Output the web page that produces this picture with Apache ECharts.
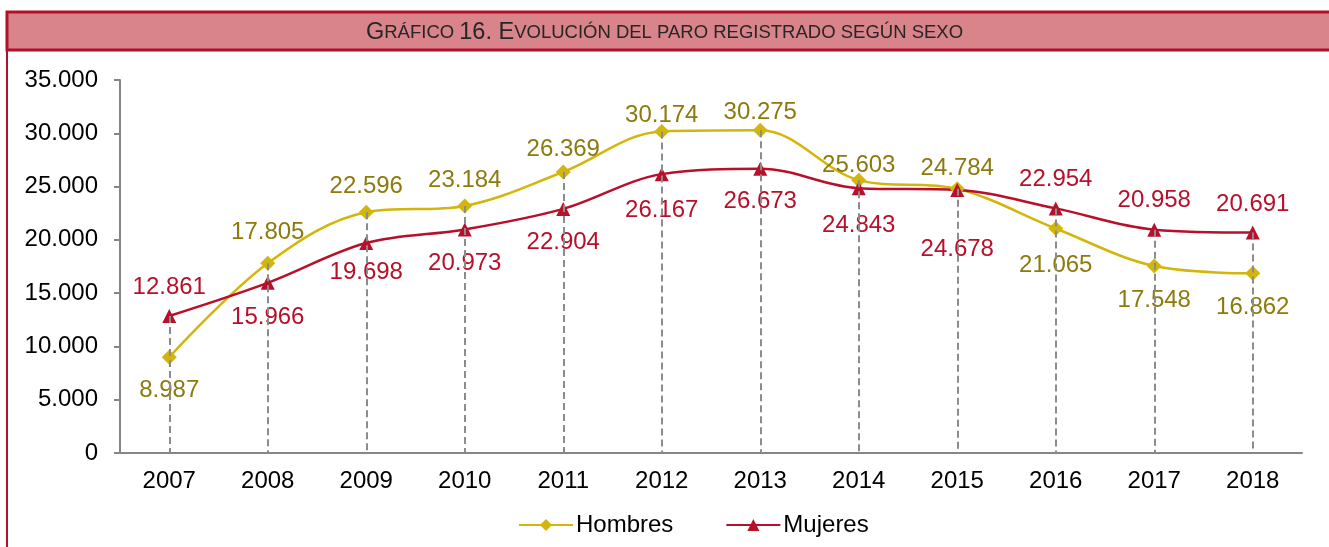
<!DOCTYPE html>
<html>
<head>
<meta charset="utf-8">
<script src="https://cdn.jsdelivr.net/npm/echarts@6/dist/echarts.min.js"></script>
<style>
  html, body { margin: 0; padding: 0; background: #fff; }
  #mybox { width: 1329px; height: 547px; }
</style>
</head>
<body>
<div id="mybox"></div>
<script>
// datos
var years = ['2007','2008','2009','2010','2011','2012','2013','2014','2015','2016','2017','2018'];
var hombres = [8987, 17805, 22596, 23184, 26369, 30174, 30275, 25603, 24784, 21065, 17548, 16862];
var mujeres = [12861, 15966, 19698, 20973, 22904, 26167, 26673, 24843, 24678, 22954, 20958, 20691];

// colocacion de las etiquetas (arriba / abajo y separacion en px)
var posHombres = ['bottom','top','top','top','top','top','top','top','top','bottom','bottom','bottom'];
var posMujeres = ['top','bottom','bottom','bottom','bottom','bottom','bottom','bottom','bottom','top','top','top'];
var gapHombres = [14, 11, 6, 6, 3, -3, -2, -5, 1, 17, 15, 15];
var gapMujeres = [10, 16, 10, 15, 14, 17, 14, 18, 40, 10, 10, 9];

var mycharts = echarts.init(document.getElementById('mybox'));

function fmt(v) {
    return String(v).replace(/\B(?=(\d{3})+(?!\d))/g, '.');
}

function puntos(arr, pos, gap) {
    return arr.map(function (v, i) {
        var dy = pos[i] === 'top' ? -gap[i] : gap[i];
        return { value: v, label: { position: pos[i], distance: 0, offset: [0, dy] } };
    });
}

// lineas verticales discontinuas hasta el eje
var drop = years.map(function (y, i) {
    return [{ coord: [i, Math.max(hombres[i], mujeres[i])] }, { coord: [i, 0] }];
});

var font = 'Liberation Sans, Arial, sans-serif';

var optionObj = {
    animation: false,
    textStyle: { fontFamily: font },
    graphic: [
        {
            type: 'rect',
            shape: { x: 7, y: 12, width: 1330, height: 38 },
            style: { fill: '#d9838a', stroke: '#b0102a', lineWidth: 3 },
            z: 0
        },
        {
            type: 'line',
            shape: { x1: 7, y1: 12, x2: 7, y2: 547 },
            style: { stroke: '#b0102a', lineWidth: 2 }
        },
        {
            type: 'text',
            left: 'center',
            top: 21,
            style: {
                text: '{b|G}{s|RÁFICO }{b|16. E}{s|VOLUCIÓN DEL PARO REGISTRADO SEGÚN SEXO}',
                rich: {
                    b: { fontSize: 23.5, fill: '#262626', fontFamily: font },
                    s: { fontSize: 18.5, fill: '#262626', fontFamily: font }
                }
            },
            z: 10
        }
    ],
    grid: { left: 120, right: 27, top: 80, bottom: 94 },
    legend: {
        bottom: 5,
        left: 513,
        itemWidth: 54,
        itemHeight: 15,
        itemGap: 52,
        textStyle: { fontSize: 24, color: '#000', fontFamily: font, padding: [0, 0, 0, -2] },
        data: ['Hombres', 'Mujeres']
    },
    xAxis: {
        type: 'category',
        data: years,
        boundaryGap: true,
        axisLine: { lineStyle: { color: '#868686', width: 2 } },
        axisTick: { show: false },
        axisLabel: { fontSize: 24, color: '#000', margin: 16 }
    },
    yAxis: {
        type: 'value',
        min: 0,
        max: 35000,
        interval: 5000,
        splitLine: { show: false },
        axisLine: { show: true, lineStyle: { color: '#868686', width: 2 } },
        axisTick: { show: true, length: 6, lineStyle: { color: '#868686', width: 2 } },
        axisLabel: { fontSize: 24, color: '#000', margin: 22, formatter: fmt }
    },
    series: [
        {
            name: 'guias',
            type: 'line',
            data: [],
            z: 1,
            markLine: {
                silent: true,
                symbol: 'none',
                label: { show: false },
                lineStyle: { type: [7, 4], color: '#8c8c8c', width: 2 },
                data: drop
            }
        },
        {
            name: 'Hombres',
            type: 'line',
            smooth: 0.35,
            data: puntos(hombres, posHombres, gapHombres),
            symbol: 'diamond',
            symbolSize: 15,
            z: 3,
            itemStyle: { color: '#d4b60a' },
            lineStyle: { color: '#d4b60a', width: 2.5 },
            label: {
                show: true,
                fontSize: 24,
                color: '#8c7a0c',
                formatter: function (p) { return fmt(p.value); }
            }
        },
        {
            name: 'Mujeres',
            type: 'line',
            smooth: 0.35,
            data: puntos(mujeres, posMujeres, gapMujeres),
            symbol: 'triangle',
            symbolSize: 14,
            z: 3,
            itemStyle: { color: '#b8102a' },
            lineStyle: { color: '#b8102a', width: 2.5 },
            label: {
                show: true,
                fontSize: 24,
                color: '#b8102a',
                formatter: function (p) { return fmt(p.value); }
            }
        }
    ]
};

mycharts.setOption(optionObj);
</script>
</body>
</html>
